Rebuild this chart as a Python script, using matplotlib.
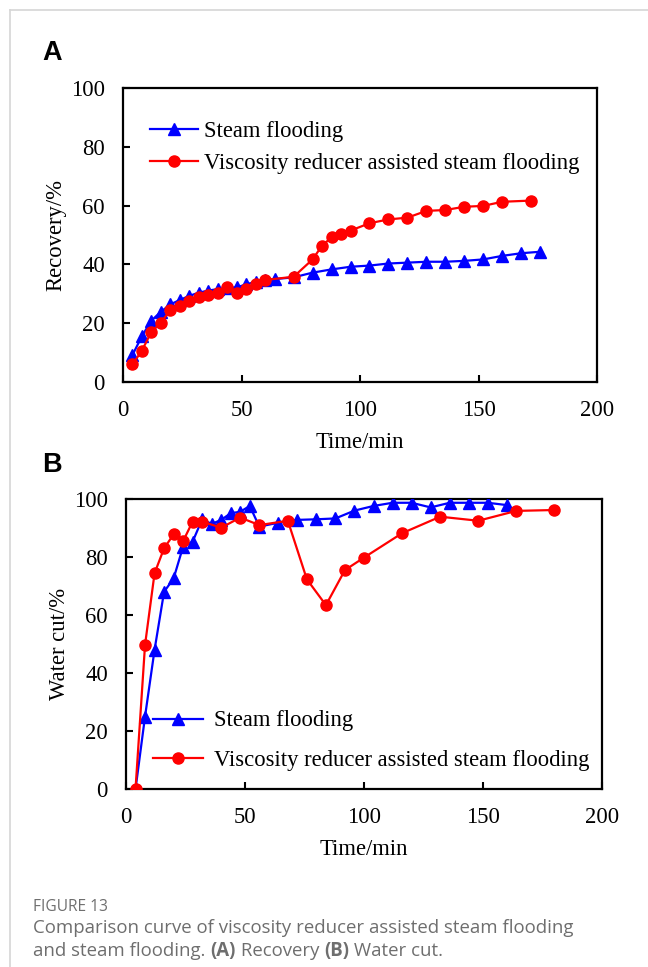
import matplotlib
matplotlib.use("Agg")
import matplotlib.pyplot as plt
from matplotlib.lines import Line2D

# ---- Panel A: Recovery ----
a_steam_x = [4, 8, 12, 16, 20, 24, 28, 32, 36, 40, 44, 48, 52, 56, 60, 64, 72, 80, 88, 96,
             104, 112, 120, 128, 136, 144, 152, 160, 168, 176]
a_steam_y = [9.2, 15.6, 20.9, 23.9, 26.4, 27.9, 29.3, 30.4, 31.1, 31.6, 32.0, 32.2, 33.2, 34.1, 34.6,
             35.0, 35.6, 37.2, 38.3, 39.2, 39.6, 40.3, 40.6, 40.9, 40.9, 41.2, 41.7, 42.9, 43.8, 44.3]
a_vis_x = [4, 8, 12, 16, 20, 24, 28, 32, 36, 40, 44, 48, 52, 56, 60, 72, 80, 84, 88, 92, 96,
           104, 112, 120, 128, 136, 144, 152, 160, 172]
a_vis_y = [6.0, 10.7, 17.1, 20.2, 24.5, 25.9, 27.6, 28.8, 29.6, 30.2, 32.2, 30.2, 31.6, 33.2, 34.7,
           35.8, 41.7, 46.4, 49.2, 50.5, 51.5, 54.0, 55.3, 55.9, 58.2, 58.5, 59.6, 59.9, 61.3, 61.7]

# ---- Panel B: Water cut ----
b_steam_x = [4, 8, 12, 16, 20, 24, 28, 32, 36, 40, 44, 48, 52, 56, 64, 72, 80, 88, 96, 104,
             112, 120, 128, 136, 144, 152, 160]
b_steam_y = [0, 25, 48, 68, 72.6, 83.6, 85.3, 93, 91.4, 92.8, 95.1, 95.6, 97.6, 90.5, 91.8, 92.8,
             93, 93.3, 96, 97.6, 98.7, 98.7, 97.1, 98.7, 98.7, 98.7, 97.9]
b_vis_x = [4, 8, 12, 16, 20, 24, 28, 32, 40, 48, 56, 68, 76, 84, 92, 100, 116, 132, 148, 164, 180]
b_vis_y = [0, 49.7, 74.4, 83, 87.8, 85.5, 92.2, 92.2, 90.1, 93.6, 91, 92.5, 72.3, 63.4, 75.5, 79.8,
           88.2, 93.9, 92.5, 95.9, 96.2]

label_steam = "Steam flooding"
label_vis = "Viscosity reducer assisted steam flooding"
x_ticks = [0, 50, 100, 150, 200]
y_ticks = [0, 20, 40, 60, 80, 100]

W, H = 648, 967
fig = plt.figure(figsize=(W / 100, H / 100), dpi=100)
serif = "Liberation Serif"
fs = 16.3

def px_axes(left, top, right, bottom):
    return fig.add_axes([left / W, 1 - bottom / H, (right - left) / W, (bottom - top) / H])

def style(ax, ylabel):
    ax.set_xlim(0, 200)
    ax.set_ylim(0, 100)
    ax.set_xticks(x_ticks)
    ax.set_yticks(y_ticks)
    ax.tick_params(direction="in", length=5, width=1.5, top=False, right=False,
                   labelsize=fs, pad=13)
    for lab in ax.get_xticklabels() + ax.get_yticklabels():
        lab.set_fontfamily(serif)
    for s in ax.spines.values():
        s.set_linewidth(1.6)
    ax.set_xlabel("Time/min", fontsize=fs, fontfamily=serif, labelpad=8)
    ax.set_ylabel(ylabel, fontsize=fs, fontfamily=serif, labelpad=3)

ms = 8
axA = px_axes(123, 88, 597, 382)
axA.plot(a_steam_x, a_steam_y, color="#0000ff", marker="^", markersize=ms, lw=1.6,
         label=label_steam, zorder=3)
axA.plot(a_vis_x, a_vis_y, color="#ff0000", marker="o", markersize=ms, lw=1.6,
         label=label_vis, zorder=4)
style(axA, "Recovery/%")
legA = axA.legend(loc="upper left", bbox_to_anchor=(0.057, 0.888), frameon=False,
                  prop={"family": serif, "size": fs}, handlelength=2.1, handletextpad=0.27,
                  labelspacing=0.5, borderaxespad=0, borderpad=0)

axB = px_axes(126, 499, 602, 789)
axB.plot(b_steam_x, b_steam_y, color="#0000ff", marker="^", markersize=ms, lw=1.6,
         label=label_steam, zorder=3)
axB.plot(b_vis_x, b_vis_y, color="#ff0000", marker="o", markersize=ms, lw=1.6,
         label=label_vis, zorder=4)
style(axB, "Water cut/%")
legB = axB.legend(loc="lower left", bbox_to_anchor=(0.057, 0.062), frameon=False,
                  prop={"family": serif, "size": fs}, handlelength=2.2, handletextpad=0.5,
                  labelspacing=0.82, borderaxespad=0, borderpad=0)

# panel letters
fig.text(42 / W, 1 - 53 / H, "A", fontsize=19.5, fontweight="bold", family="Liberation Sans",
         va="center", ha="left")
fig.text(42 / W, 1 - 465 / H, "B", fontsize=19.5, fontweight="bold", family="Liberation Sans",
         va="center", ha="left")

# caption
cap_col = "#6e6e6e"
fig.text(33 / W, 1 - 907 / H, "FIGURE 13", fontsize=11.2, color=cap_col,
         family="Open Sans", va="center", ha="left")
fig.text(33 / W, 1 - 928 / H, "Comparison curve of viscosity reducer assisted steam flooding",
         fontsize=13.4, color=cap_col, family="Open Sans", va="center", ha="left")
t1 = fig.text(33 / W, 1 - 951 / H, "and steam flooding. ", fontsize=13.4, color=cap_col,
              family="Open Sans", va="center", ha="left")
fig.canvas.draw()
r = fig.canvas.get_renderer()
bb = t1.get_window_extent(r)
x = bb.x1
parts = [("(A)", "bold"), (" Recovery ", "normal"), ("(B)", "bold"), (" Water cut.", "normal")]
for txt, wt in parts:
    t = fig.text(x / W, 1 - 951 / H, txt, fontsize=13.4, color=cap_col, fontweight=wt,
                 family="Open Sans", va="center", ha="left")
    x = t.get_window_extent(r).x1

# border lines
fig.add_artist(Line2D([10 / W, 1], [1 - 10 / H, 1 - 10 / H], color="#d6d6d6", lw=1.2,
                      transform=fig.transFigure))
fig.add_artist(Line2D([10 / W, 10 / W], [0, 1 - 10 / H], color="#d6d6d6", lw=1.2,
                      transform=fig.transFigure))

fig.savefig("out.png", dpi=100)
